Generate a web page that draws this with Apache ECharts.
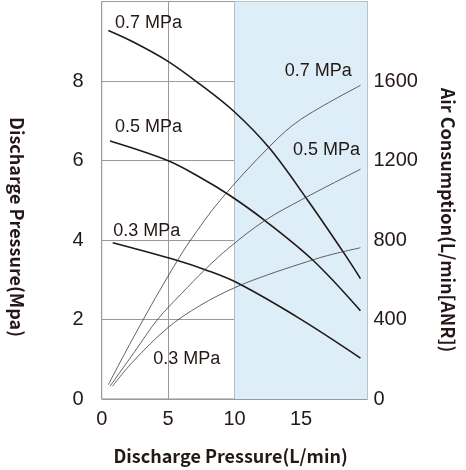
<!DOCTYPE html>
<html><head><meta charset="utf-8">
<script src="https://cdn.jsdelivr.net/npm/echarts@6/dist/echarts.min.js"></script>
<style>html,body{margin:0;padding:0;background:#fff}#c{width:466px;height:470px}</style>
</head><body><div id="c"></div>
<script>
// Discharge pressure curves (left axis, MPa) : [flow L/min, pressure]
const pressure07 = [[0.5,9.27],[2.38,8.98],[4.96,8.5],[7.39,7.92],[10.0,7.22],[12.65,6.3],[15.5,5.0],[18.17,3.7],[19.47,3.03]];
const pressure05 = [[0.62,6.49],[4.96,6.0],[7.39,5.58],[9.65,5.12],[12.28,4.49],[15.9,3.49],[19.47,2.22]];
const pressure03 = [[0.83,3.93],[5.64,3.49],[7.89,3.24],[10.27,2.91],[14.96,2.01],[19.47,1.03]];
// Air consumption curves (right axis, L/min[ANR])
const air07 = [[0.5,72],[1.75,231],[3.13,400],[4.38,548],[5.64,690],[6.64,795],[8.89,998],[12.65,1272],[14.96,1406],[19.47,1578]];
const air05 = [[0.62,64],[2.5,240],[4.2,400],[6.0,530],[7.77,651],[9.65,765],[12.28,898],[15.1,1005],[19.47,1156]];
const air03 = [[0.8,64],[2.38,190],[5.0,360],[7.39,470],[10.0,560],[12.5,625],[15.0,681],[17.0,722],[19.47,761]];
// Curve labels: [x, value, text]
const pressureLabels = [[1.0,9.46,'0.7 MPa'],[1.0,6.85,'0.5 MPa'],[0.87,4.23,'0.3 MPa']];
const airLabels = [[13.78,1648,'0.7 MPa'],[14.4,1252,'0.5 MPa'],[3.88,202,'0.3 MPa']];
const shadedRange = [10, 20];
const xTitle = 'Discharge Pressure(L/min)';
const leftTitle = 'Discharge Pressure(Mpa)';
const rightTitle = 'Air Consumption(L/min[ANR])';

const dark = '#231815';
const tickFont = {color: dark, fontSize: 20, fontFamily: 'Liberation Sans, Arial, sans-serif'};
const titleFamily = 'Noto Sans CJK JP, Noto Sans, sans-serif';
const titleFont = {color: dark, fontSize: 18, fontWeight: 'bold', fontFamily: titleFamily, padding: [0, 8, 0, 0]};

function labelPoints(arr){
  return {
    symbol: 'circle', symbolSize: 0, silent: true,
    data: arr.map(a => ({coord: [a[0], a[1]], value: a[2]})),
    label: {show: true, formatter: p => p.value, position: [0,0], align: 'left', verticalAlign: 'middle',
      color: dark, fontSize: 18, fontFamily: 'Liberation Sans, Arial, sans-serif'}
  };
}

const chart = echarts.init(document.getElementById('c'), null, {renderer: 'canvas'});
const pStyle = {color: dark, width: 1.6};
const aStyle = {color: '#3a3a3a', width: 0.8};
const sm = 0.35;
chart.setOption({
  animation: false,
  grid: {left: 101.7, right: 98.5, top: 1.5, bottom: 70.5, show: true, borderColor: '#8c8c8c', borderWidth: 1},
  graphic: [
    {type: 'text', x: 17, y: 227, rotation: -Math.PI/2, silent: true,
      style: {text: leftTitle, fill: dark, font: 'bold 18px ' + titleFamily, textAlign: 'center', textVerticalAlign: 'middle'}},
    {type: 'text', x: 448, y: 220, rotation: -Math.PI/2, silent: true,
      style: {text: rightTitle, fill: dark, font: 'bold 18px ' + titleFamily, textAlign: 'center', textVerticalAlign: 'middle'}}
  ],
  xAxis: {type: 'value', min: 0, max: 20, interval: 5,
    name: xTitle, nameLocation: 'middle', nameGap: 48, nameTextStyle: titleFont,
    axisLine: {show: false}, axisTick: {show: false},
    axisLabel: Object.assign({margin: 10, showMaxLabel: false}, tickFont),
    splitLine: {show: true, lineStyle: {color: '#9a9a9a', width: 1}}},
  yAxis: [
    {type: 'value', min: 0, max: 10, interval: 2, position: 'left',
      axisLine: {show: false}, axisTick: {show: false},
      axisLabel: Object.assign({margin: 18, showMaxLabel: false}, tickFont),
      splitLine: {show: true, lineStyle: {color: '#9a9a9a', width: 1}}},
    {type: 'value', min: 0, max: 2000, interval: 400, position: 'right',
      axisLine: {show: false}, axisTick: {show: false},
      axisLabel: Object.assign({margin: 6, showMaxLabel: false, formatter: v => String(v)}, tickFont),
      splitLine: {show: false}}
  ],
  series: [
    {type: 'line', name: 'P 0.7', yAxisIndex: 0, data: pressure07, smooth: sm, symbol: 'none', lineStyle: pStyle,
      markArea: {silent: true, itemStyle: {color: '#ddeef9'}, data: [[{xAxis: shadedRange[0]}, {xAxis: shadedRange[1]}]]},
      markPoint: labelPoints(pressureLabels), z: 3},
    {type: 'line', name: 'P 0.5', yAxisIndex: 0, data: pressure05, smooth: sm, symbol: 'none', lineStyle: pStyle, z: 3},
    {type: 'line', name: 'P 0.3', yAxisIndex: 0, data: pressure03, smooth: sm, symbol: 'none', lineStyle: pStyle, z: 3},
    {type: 'line', name: 'A 0.7', yAxisIndex: 1, data: air07, smooth: sm, symbol: 'none', lineStyle: aStyle,
      markPoint: labelPoints(airLabels), z: 3},
    {type: 'line', name: 'A 0.5', yAxisIndex: 1, data: air05, smooth: sm, symbol: 'none', lineStyle: aStyle, z: 3},
    {type: 'line', name: 'A 0.3', yAxisIndex: 1, data: air03, smooth: sm, symbol: 'none', lineStyle: aStyle, z: 3}
  ]
});
</script></body></html>
